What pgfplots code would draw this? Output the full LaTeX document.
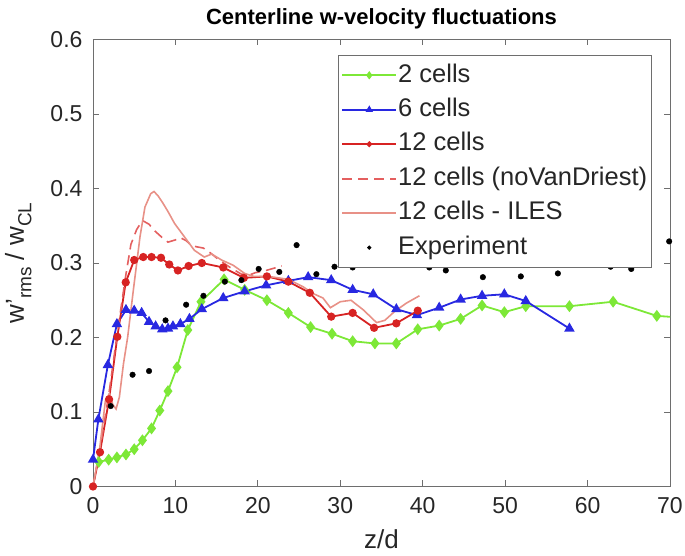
\documentclass[border=0pt]{standalone}
\usepackage{fontspec}
\setmainfont{Liberation Sans}
\usepackage{pgfplots}
\pgfplotsset{compat=1.18}
\definecolor{cgreen}{RGB}{125,232,55}
\definecolor{cblue}{RGB}{40,40,225}
\definecolor{cred}{RGB}{215,35,35}
\definecolor{cdash}{RGB}{228,95,95}
\definecolor{ciles}{RGB}{232,145,135}
\definecolor{caxis}{RGB}{110,110,110}
\definecolor{ctext}{RGB}{38,38,38}
\begin{document}
\begin{tikzpicture}
\begin{axis}[
  scale only axis, width=577pt, height=447pt,
  xmin=0, xmax=70, ymin=0, ymax=0.6,
  xtick={0,10,20,30,40,50,60,70},
  ytick={0,0.1,0.2,0.3,0.4,0.5,0.6},
  tick align=inside, major tick length=6pt,
  axis line style={draw=caxis, line width=0.8pt},
  every tick/.style={draw=caxis, line width=0.8pt},
  /pgf/number format/assume math mode=true,
  tick label style={font=\fontsize{23}{27}\selectfont, color=ctext},
  xticklabel style={yshift=-7pt},
  yticklabel style={xshift=-7pt},
  title={\bfseries Centerline w-velocity fluctuations},
  title style={font=\fontsize{22}{26}\selectfont, color=black, at={(0.5,1)}, anchor=south, yshift=1pt},
  xlabel={z/d},
  xlabel style={font=\fontsize{26}{30}\selectfont, color=ctext, yshift=-9pt},
  ylabel={w{\char"0027}\raisebox{-0.55ex}{\fontsize{19}{20}\selectfont rms} / w\raisebox{-0.55ex}{\fontsize{19}{20}\selectfont CL}},
  ylabel style={font=\fontsize{26}{30}\selectfont, color=ctext, yshift=12pt},
  legend image code/.code={\draw[mark repeat=2,mark phase=2,#1,every mark/.append style={scale=0.6}] plot coordinates {(0pt,0pt)(27pt,0pt)(54pt,0pt)};},
  legend cell align=left,
  legend style={at={(rel axis cs:0.4246,0.965)}, anchor=north west, draw=caxis, line width=0.8pt, fill=white,
    font=\fontsize{25.5}{29}\selectfont, text=ctext, row sep=9pt, inner xsep=3pt, inner ysep=7pt,
    nodes={inner sep=1pt, text depth=5pt}},
]
\addplot[color=cgreen, line width=1.8pt, mark=diamond*, mark size=4.5pt, mark options={fill=cgreen}] coordinates {
(0.7,0.033)(1.9,0.036)(2.9,0.039)(4.0,0.043)(5.0,0.050)(6.0,0.062)(7.1,0.078)(8.1,0.102)(9.1,0.128)(10.2,0.160)
(11.5,0.210)(13.1,0.248)(15.9,0.278)(18.4,0.264)(21.1,0.250)(23.7,0.233)(26.4,0.214)(29.0,0.205)(31.5,0.195)
(34.2,0.192)(36.8,0.192)(39.4,0.211)(42.0,0.216)(44.6,0.225)(47.2,0.243)(49.9,0.234)(52.5,0.242)(57.8,0.242)
(63.1,0.248)(68.4,0.229)(73.7,0.225)};
\addlegendentry{2 cells}
\addplot[color=cblue, line width=1.8pt, mark=triangle*, mark size=4.3pt, mark options={fill=cblue}] coordinates {
(0,0.036)(0.65,0.090)(1.8,0.163)(2.9,0.218)(4.0,0.237)(5.0,0.236)(5.9,0.233)(6.8,0.221)(7.6,0.215)(8.4,0.211)
(9.1,0.212)(9.7,0.215)(10.6,0.218)(11.7,0.225)(13.2,0.238)(15.8,0.253)(18.4,0.262)(21.0,0.270)(23.7,0.276)
(26.1,0.281)(28.9,0.277)(31.5,0.264)(34.0,0.258)(36.8,0.238)(39.3,0.230)(42.0,0.240)(44.6,0.251)(47.2,0.256)
(49.9,0.258)(52.5,0.249)(57.8,0.212)};
\addlegendentry{6 cells}
\addplot[color=cred, line width=1.8pt, mark=*, mark size=3.2pt, mark options={fill=cred}] coordinates {
(0,0.0)(0.85,0.046)(1.95,0.117)(2.95,0.201)(3.97,0.274)(5.0,0.304)(6.1,0.308)(7.1,0.308)(8.25,0.307)(9.25,0.298)
(10.3,0.290)(11.6,0.296)(13.2,0.300)(15.8,0.294)(18.3,0.280)(21.1,0.282)(23.7,0.275)(26.3,0.260)(28.9,0.228)
(31.5,0.233)(34.1,0.213)(36.8,0.219)(39.4,0.236)};
\addlegendentry{12 cells}
\addplot[color=cdash, line width=1.6pt, dash pattern=on 10pt off 6pt] coordinates {
(0,0)(1.0,0.06)(2.0,0.13)(3.0,0.21)(4.0,0.285)(4.6,0.325)(5.3,0.345)(6.0,0.357)(6.8,0.352)(7.5,0.343)(8.3,0.335)
(9.1,0.328)(10.0,0.331)(10.6,0.334)(11.3,0.330)(12.0,0.323)(13.4,0.320)(14.3,0.313)(15.2,0.305)(16.5,0.295)
(18.0,0.285)(19.0,0.284)(19.7,0.287)(21.0,0.290)(22.9,0.296)};
\addlegendentry{12 cells (noVanDriest)}
\addplot[color=ciles, line width=1.6pt] coordinates {
(0,0)(0.8,0.05)(1.5,0.115)(2.0,0.125)(2.4,0.11)(2.8,0.104)(3.2,0.12)(3.7,0.165)(4.2,0.2)(4.9,0.264)(5.7,0.335)
(6.3,0.375)(7.0,0.393)(7.4,0.396)(7.9,0.39)(8.5,0.38)(9.1,0.369)(9.9,0.353)(11.1,0.335)(12.3,0.317)(13.5,0.308)
(14.4,0.312)(15.6,0.304)(17.0,0.297)(18.4,0.286)(19.5,0.282)(21.3,0.282)(23.7,0.278)(25.5,0.268)(26.7,0.259)
(27.9,0.253)(28.8,0.240)(30.0,0.248)(31.3,0.250)(32.8,0.237)(34.4,0.220)(35.4,0.223)(36.6,0.235)(38.0,0.246)(39.6,0.256)};
\addlegendentry{12 cells - ILES}
\addplot[only marks, mark=*, mark size=2.8pt, color=black] coordinates {
(2.15,0.108)(4.8,0.150)(6.8,0.155)(8.8,0.223)(11.3,0.244)(13.4,0.256)(16.0,0.275)(18.0,0.277)(20.1,0.292)
(22.6,0.288)(24.7,0.324)(27.1,0.285)(29.3,0.295)(31.5,0.294)(40.8,0.294)(42.8,0.290)(47.3,0.281)(51.9,0.282)
(56.4,0.286)(62.8,0.295)(65.3,0.292)(69.9,0.329)};
\addlegendentry{Experiment}
\end{axis}
\pgfresetboundingbox
\path (-93pt,-69.5pt) rectangle (592pt,486.5pt);
\end{tikzpicture}
\end{document}
